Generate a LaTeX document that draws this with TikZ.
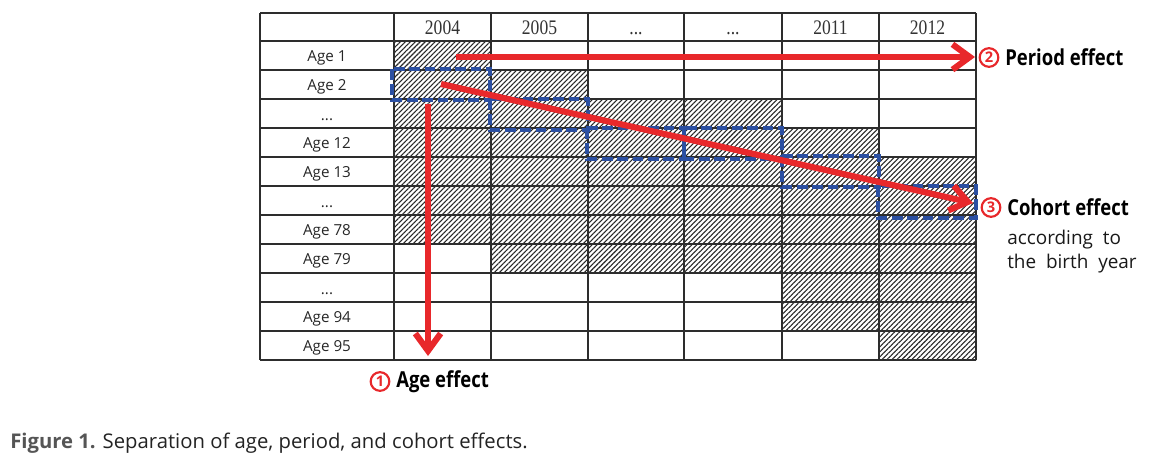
\documentclass[tikz,border=0pt]{standalone}
\usepackage{fontspec}
\setmainfont{Open Sans}
\newfontfamily\yearfont[FakeStretch=0.85]{Liberation Serif}
\newfontfamily\condfont[FakeStretch=0.84]{Open Sans}
\usetikzlibrary{patterns.meta,arrows.meta}
\definecolor{redarrow}{RGB}{232,40,43}
\definecolor{bluedash}{RGB}{43,79,162}
\definecolor{gridcol}{RGB}{45,45,45}
\definecolor{capgray}{RGB}{85,85,85}
\definecolor{captext}{RGB}{35,35,35}
\begin{document}
\begin{tikzpicture}[x=0.75pt,y=-0.75pt,
  hatch/.style={pattern={Lines[angle=45,distance=2.65pt,line width=0.8pt]},pattern color=black!85},
  gridline/.style={draw=gridcol,line width=0.95pt},
  agelab/.style={anchor=base,font=\fontsize{11.4}{13}\selectfont,text=black!85},
  yearlab/.style={anchor=base,font=\yearfont\fontsize{15.5}{17}\selectfont,text=black!80},
  cohortbox/.style={draw=bluedash,line width=2.5pt,dash pattern=on 8pt off 3.5pt},
  effarrow/.style={draw=redarrow,line width=4.6pt,-{Straight Barb[length=13pt,width=19pt]}},
  circnum/.style={circle,draw=redarrow,line width=1.6pt,text=redarrow,inner sep=0pt,minimum size=14pt,font=\bfseries\fontsize{11}{12}\selectfont},
  efflab/.style={anchor=west,inner sep=0pt,font=\condfont\bfseries\fontsize{16.5}{18}\selectfont,text=black},
  notelab/.style={anchor=west,inner sep=0pt,font=\fontsize{14.2}{16}\selectfont,text=black!90}
]
\useasboundingbox (0,0) rectangle (1154,462);
% hatched cells
\fill[hatch] (394,41) rectangle (491,244);
\fill[hatch] (491,70) rectangle (588,273);
\fill[hatch] (588,99) rectangle (684,273);
\fill[hatch] (684,99) rectangle (782,273);
\fill[hatch] (782,128) rectangle (879,331);
\fill[hatch] (879,157) rectangle (976,360);
% grid
\foreach \xx in {260,394,491,588,684,782,879,976} \draw[gridline] (\xx,13) -- (\xx,360);
\draw[gridline] (260,13) -- (976,13);
\foreach \r in {0,...,11} \draw[gridline] (260,41+29*\r) -- (976,41+29*\r);
% header
\node[yearlab] (y1) at (442.5,34) {2004};
\node[yearlab] (y2) at (539.5,34) {2005};
\node[yearlab] (y3) at (636,34) {...};
\node[yearlab] (y4) at (733,34) {...};
\node[yearlab] (y5) at (830.5,34) {2011};
\node[yearlab] (y6) at (927.5,34) {2012};
% age labels
\node[agelab] (a1) at (327,61) {Age 1};
\node[agelab] (a2) at (327,90) {Age 2};
\node[agelab] (a3) at (327,120) {...};
\node[agelab] (a4) at (327,148) {Age 12};
\node[agelab] (a5) at (327,177) {Age 13};
\node[agelab] (a6) at (327,207) {...};
\node[agelab] (a7) at (327,235) {Age 78};
\node[agelab] (a8) at (327,264) {Age 79};
\node[agelab] (a9) at (327,294) {...};
\node[agelab] (a10) at (327,322) {Age 94};
\node[agelab] (a11) at (327,351) {Age 95};
% cohort boxes
\draw[cohortbox] (392,69) rectangle (490,100);
\draw[cohortbox] (490,99) rectangle (588,130);
\draw[cohortbox] (587,128) rectangle (684,159);
\draw[cohortbox] (684,128) rectangle (782,159);
\draw[cohortbox] (782,156) rectangle (879,187);
\draw[cohortbox] (878,186) rectangle (976,218);
% arrow end points
\coordinate (ps) at (456,57);
\coordinate (pe) at (975,57);
\coordinate (as) at (428,104);
\coordinate (ae) at (428,356);
\coordinate (cs) at (441,84);
\coordinate (ce) at (973,203);
\draw[effarrow] (ps) -- (pe);
\draw[effarrow] (as) -- (ae);
\draw[effarrow] (cs) -- (ce);
% labels
\node[circnum] (c2) at (989,57.5) {2};
\node[efflab] (l2) at (1005,57.5) {Period effect};
\node[circnum] (c3) at (991,207.5) {3};
\node[efflab] (l3) at (1007,207.5) {Cohort effect};
\node[notelab] (n1) at (1007,240) {according\ \ to};
\node[notelab] (n2) at (1007,264) {the\ \ birth\ \ year};
\node[circnum] (c1) at (380,381.5) {1};
\node[efflab] (l1) at (396,381.5) {Age effect};
% caption
\node[anchor=west,inner sep=0pt,font=\fontsize{15.2}{17}\selectfont,text=captext] (cap) at (10,443)
  {{\color{capgray}\bfseries Figure 1.} Separation of age, period, and cohort effects.};
\end{tikzpicture}
\end{document}
